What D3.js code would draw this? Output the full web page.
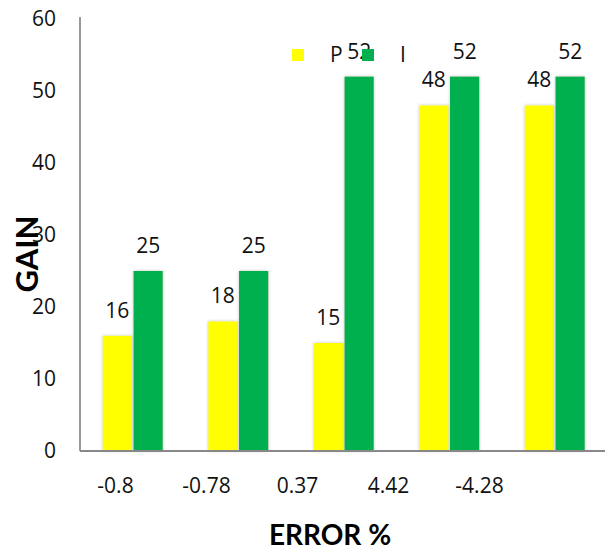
<!DOCTYPE html>
<html><head><meta charset="utf-8">
<script src="https://cdn.jsdelivr.net/npm/d3@7"></script>
<style>body{margin:0;background:#fff;}svg{display:block;}</style>
</head><body>
<svg id="c" width="605" height="552"></svg>
<script>
const categories = ["-0.8", "-0.78", "0.37", "4.42", "-4.28"];
const seriesNames = ["P", "I"];
const pValues = [16, 18, 15, 48, 48];
const iValues = [25, 25, 52, 52, 52];
const yTicks = [0, 10, 20, 30, 40, 50, 60];
const colors = ["#FFFF00", "#00B050"];

const svg = d3.select("#c");
const defs = svg.append("defs");
const f = defs.append("filter").attr("id","sh").attr("x","-30%").attr("y","-10%").attr("width","160%").attr("height","120%");
f.append("feDropShadow").attr("dx",0).attr("dy",0).attr("stdDeviation",1.4).attr("flood-color","#888").attr("flood-opacity",0.55);

const y = d3.scaleLinear().domain([0, 60]).range([451, 19]);
const x = d3.scaleBand().domain(categories).range([80, 607.5]).paddingInner(0).paddingOuter(0);
const xs = d3.scaleBand().domain(seriesNames).range([-30, 30]).paddingInner(0.05);
const xl = d3.scalePoint().domain(categories).range([115, 479]);

// y axis
const ya = svg.append("g").attr("transform","translate(80,0)")
  .call(d3.axisLeft(y).tickValues(yTicks).tickSize(0).tickPadding(24));
ya.select(".domain").attr("stroke","#999").attr("stroke-width",2).attr("d","M0,17V451");
ya.selectAll("text").attr("font-family","'Open Sans', sans-serif").attr("font-size",21).attr("fill","#111");

// bars
const data = categories.map((c,i)=>({c, vals:[pValues[i], iValues[i]]}));
const groups = svg.append("g").selectAll("g").data(data).join("g")
  .attr("transform", d=>`translate(${x(d.c)+x.bandwidth()/2},0)`);
groups.selectAll("rect").data(d=>d.vals.map((v,k)=>({v, s:seriesNames[k], k})))
  .join("rect")
  .attr("x", d=>xs(d.s)).attr("width", xs.bandwidth())
  .attr("y", d=>y(d.v)).attr("height", d=>y(0)-y(d.v))
  .attr("fill", d=>colors[d.k]).attr("filter","url(#sh)");
groups.selectAll("text").data(d=>d.vals.map((v,k)=>({v, s:seriesNames[k], k})))
  .join("text")
  .attr("x", d=>xs(d.s)+xs.bandwidth()/2).attr("y", d=>y(d.v)-18)
  .attr("text-anchor","middle").attr("font-family","'Open Sans', sans-serif")
  .attr("font-size",21).attr("fill","#111").text(d=>d.v);

// x axis
const xa = svg.append("g").attr("transform","translate(0,451)")
  .call(d3.axisBottom(x).tickSize(0).tickFormat(""));
xa.select(".domain").attr("stroke","#888").attr("stroke-width",2.2).attr("d","M80,0H605");
const xla = svg.append("g").attr("transform","translate(0,451)")
  .call(d3.axisBottom(xl).tickSize(0).tickPadding(27));
xla.select(".domain").remove();
xla.selectAll("text").attr("font-family","'Open Sans', sans-serif").attr("font-size",21).attr("fill","#111");

// titles
svg.append("text").attr("transform","translate(38,254) rotate(-90)").attr("text-anchor","middle")
  .attr("font-family","Lato, sans-serif").attr("font-weight","bold").attr("font-size",31).attr("fill","#000").text("GAIN");
svg.append("text").attr("x",330).attr("y",545).attr("text-anchor","middle")
  .attr("font-family","Lato, sans-serif").attr("font-weight","bold").attr("font-size",28).attr("fill","#000").text("ERROR %");

// legend
const leg = svg.append("g");
const legX = [292, 362];
seriesNames.forEach((s,k)=>{
  leg.append("rect").attr("x",legX[k]).attr("y",49).attr("width",12).attr("height",12).attr("fill",colors[k]);
  leg.append("text").attr("x",legX[k]+38).attr("y",62).attr("font-family","'Open Sans', sans-serif")
    .attr("font-size",21).attr("fill","#111").text(s);
});
</script>
</body></html>
